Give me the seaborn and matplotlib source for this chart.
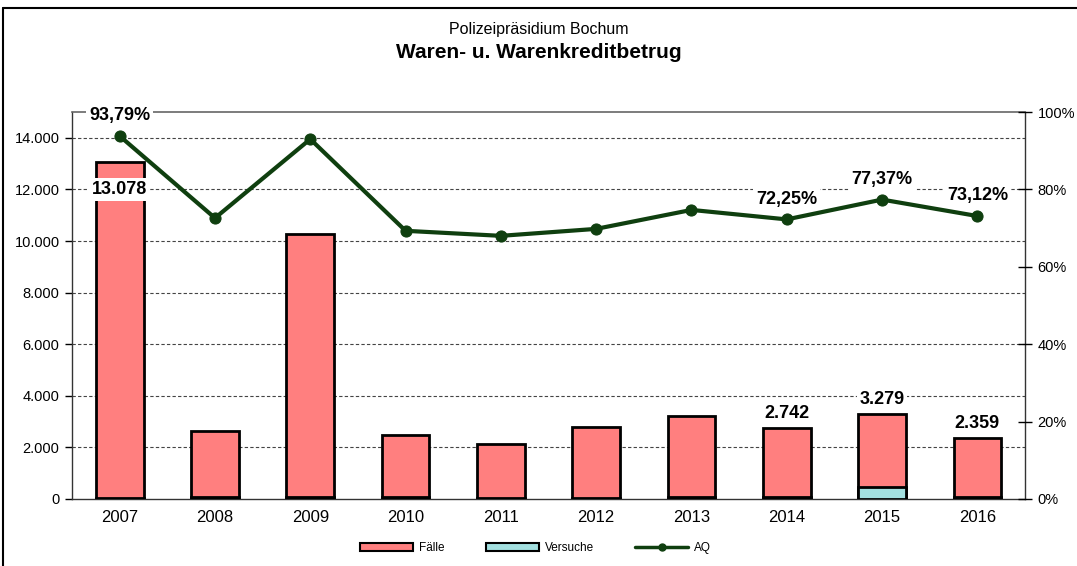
import numpy as np
import pandas as pd
import matplotlib.pyplot as plt
import seaborn as sns
from matplotlib.lines import Line2D
from matplotlib.patches import Patch
from matplotlib.ticker import FuncFormatter

sns.set_style('white')
plt.rcParams['font.family'] = ['Liberation Sans', 'DejaVu Sans']
plt.rcParams['text.color'] = 'black'
plt.rcParams['xtick.color'] = 'black'
plt.rcParams['ytick.color'] = 'black'

# data
years = ['2007', '2008', '2009', '2010', '2011', '2012', '2013', '2014', '2015', '2016']
faelle = [13078, 2640, 10280, 2495, 2135, 2805, 3220, 2742, 3279, 2359]
versuche = [20, 60, 70, 60, 20, 30, 60, 70, 480, 60]
aq = [93.79, 72.6, 93.0, 69.3, 68.0, 69.8, 74.7, 72.25, 77.37, 73.12]

bar_labels = {'2007': '13.078', '2014': '2.742', '2015': '3.279', '2016': '2.359'}
aq_labels = {'2007': '93,79%', '2014': '72,25%', '2015': '77,37%', '2016': '73,12%'}

df = pd.DataFrame({'Jahr': years, 'Faelle': faelle, 'Versuche': versuche, 'AQ': aq})
df['pos'] = np.arange(len(df))

fig = plt.figure(figsize=(10.77, 5.66), dpi=100)
ax = fig.add_axes([0.0669, 0.1184, 0.8848, 0.6837])

red = '#ff7f7f'
cyan = '#a3e0e0'
green = '#0f3f0f'

sns.barplot(data=df, x='Jahr', y='Faelle', color=red, width=0.5, saturation=1,
            edgecolor='black', linewidth=2, ax=ax, zorder=2)
sns.barplot(data=df, x='Jahr', y='Versuche', color=cyan, width=0.5, saturation=1,
            edgecolor='black', linewidth=2, ax=ax, zorder=3)

ax.set_ylim(0, 15000)
ax.set_xlim(-0.5, len(years) - 0.5)
ax.set_yticks(np.arange(0, 15000, 2000))
ax.yaxis.set_major_formatter(FuncFormatter(lambda v, p: f'{int(v):,}'.replace(',', '.')))
for v in range(2000, 15000, 2000):
    ax.axhline(v, color='#444444', linestyle=(0, (3, 2)), linewidth=0.8, zorder=1)
ax.set_xlabel('')
ax.set_ylabel('')
ax.tick_params(axis='y', direction='out', length=5, width=1, labelsize=10.5, pad=4)
ax.tick_params(axis='x', which='major', length=0, labelsize=12, pad=8)
ax.set_xticks(np.arange(-0.5, len(years), 1), minor=True)
ax.tick_params(axis='x', which='minor', direction='inout', length=10, width=1)
for s in ['left', 'bottom', 'right']:
    ax.spines[s].set_color('#333333')
    ax.spines[s].set_linewidth(1)
ax.spines['top'].set_color('#666666')
ax.spines['top'].set_linewidth(1.2)

ax2 = ax.twinx()
sns.lineplot(data=df, x='pos', y='AQ', color=green, linewidth=3, marker='o',
             markersize=8, markeredgecolor=green, ax=ax2)
ax2.set_ylim(0, 100)
ax2.set_yticks(np.arange(0, 101, 20))
ax2.yaxis.set_major_formatter(FuncFormatter(lambda v, p: f'{int(v)}%'))
ax2.tick_params(axis='y', direction='inout', length=10, width=1, labelsize=10.5, pad=4)
ax2.set_xlabel('')
ax2.set_ylabel('')
for s in ax2.spines.values():
    s.set_visible(False)

box = dict(facecolor='white', edgecolor='none', pad=2)
for i, y in enumerate(years):
    if y in bar_labels:
        val = faelle[i]
        if y == '2007':
            ax.text(i, 12000, bar_labels[y], ha='center', va='center', fontsize=13,
                    fontweight='bold', bbox=box, zorder=5)
        else:
            ax.text(i, val + 250, bar_labels[y], ha='center', va='bottom', fontsize=13,
                    fontweight='bold', bbox=box, zorder=5)
    if y in aq_labels:
        ax2.text(i, aq[i] + 3, aq_labels[y], ha='center', va='bottom', fontsize=13,
                 fontweight='bold', bbox=box, zorder=5)

fig.text(0.5, 0.947, 'Polizeipräsidium Bochum', ha='center', va='center', fontsize=11.5)
fig.text(0.5, 0.908, 'Waren- u. Warenkreditbetrug', ha='center', va='center',
         fontsize=15, fontweight='bold')

handles = [Patch(facecolor=red, edgecolor='black', linewidth=1.5, label='Fälle'),
           Patch(facecolor=cyan, edgecolor='black', linewidth=1.5, label='Versuche'),
           Line2D([0], [0], color=green, linewidth=2.5, marker='o', markersize=5, label='AQ')]
fig.legend(handles=handles, loc='center', bbox_to_anchor=(0.497, 0.032), ncol=3,
           frameon=False, fontsize=8.5, handlelength=4.5, handleheight=0.7,
           columnspacing=3.5, handletextpad=0.5)

# outer frame (top and left edge)
fig.add_artist(Line2D([0.003, 1.0], [0.985, 0.985], color='black', linewidth=1.5))
fig.add_artist(Line2D([0.003, 0.003], [0.0, 0.985], color='black', linewidth=1.5))

fig.savefig('out.png', dpi=100)
